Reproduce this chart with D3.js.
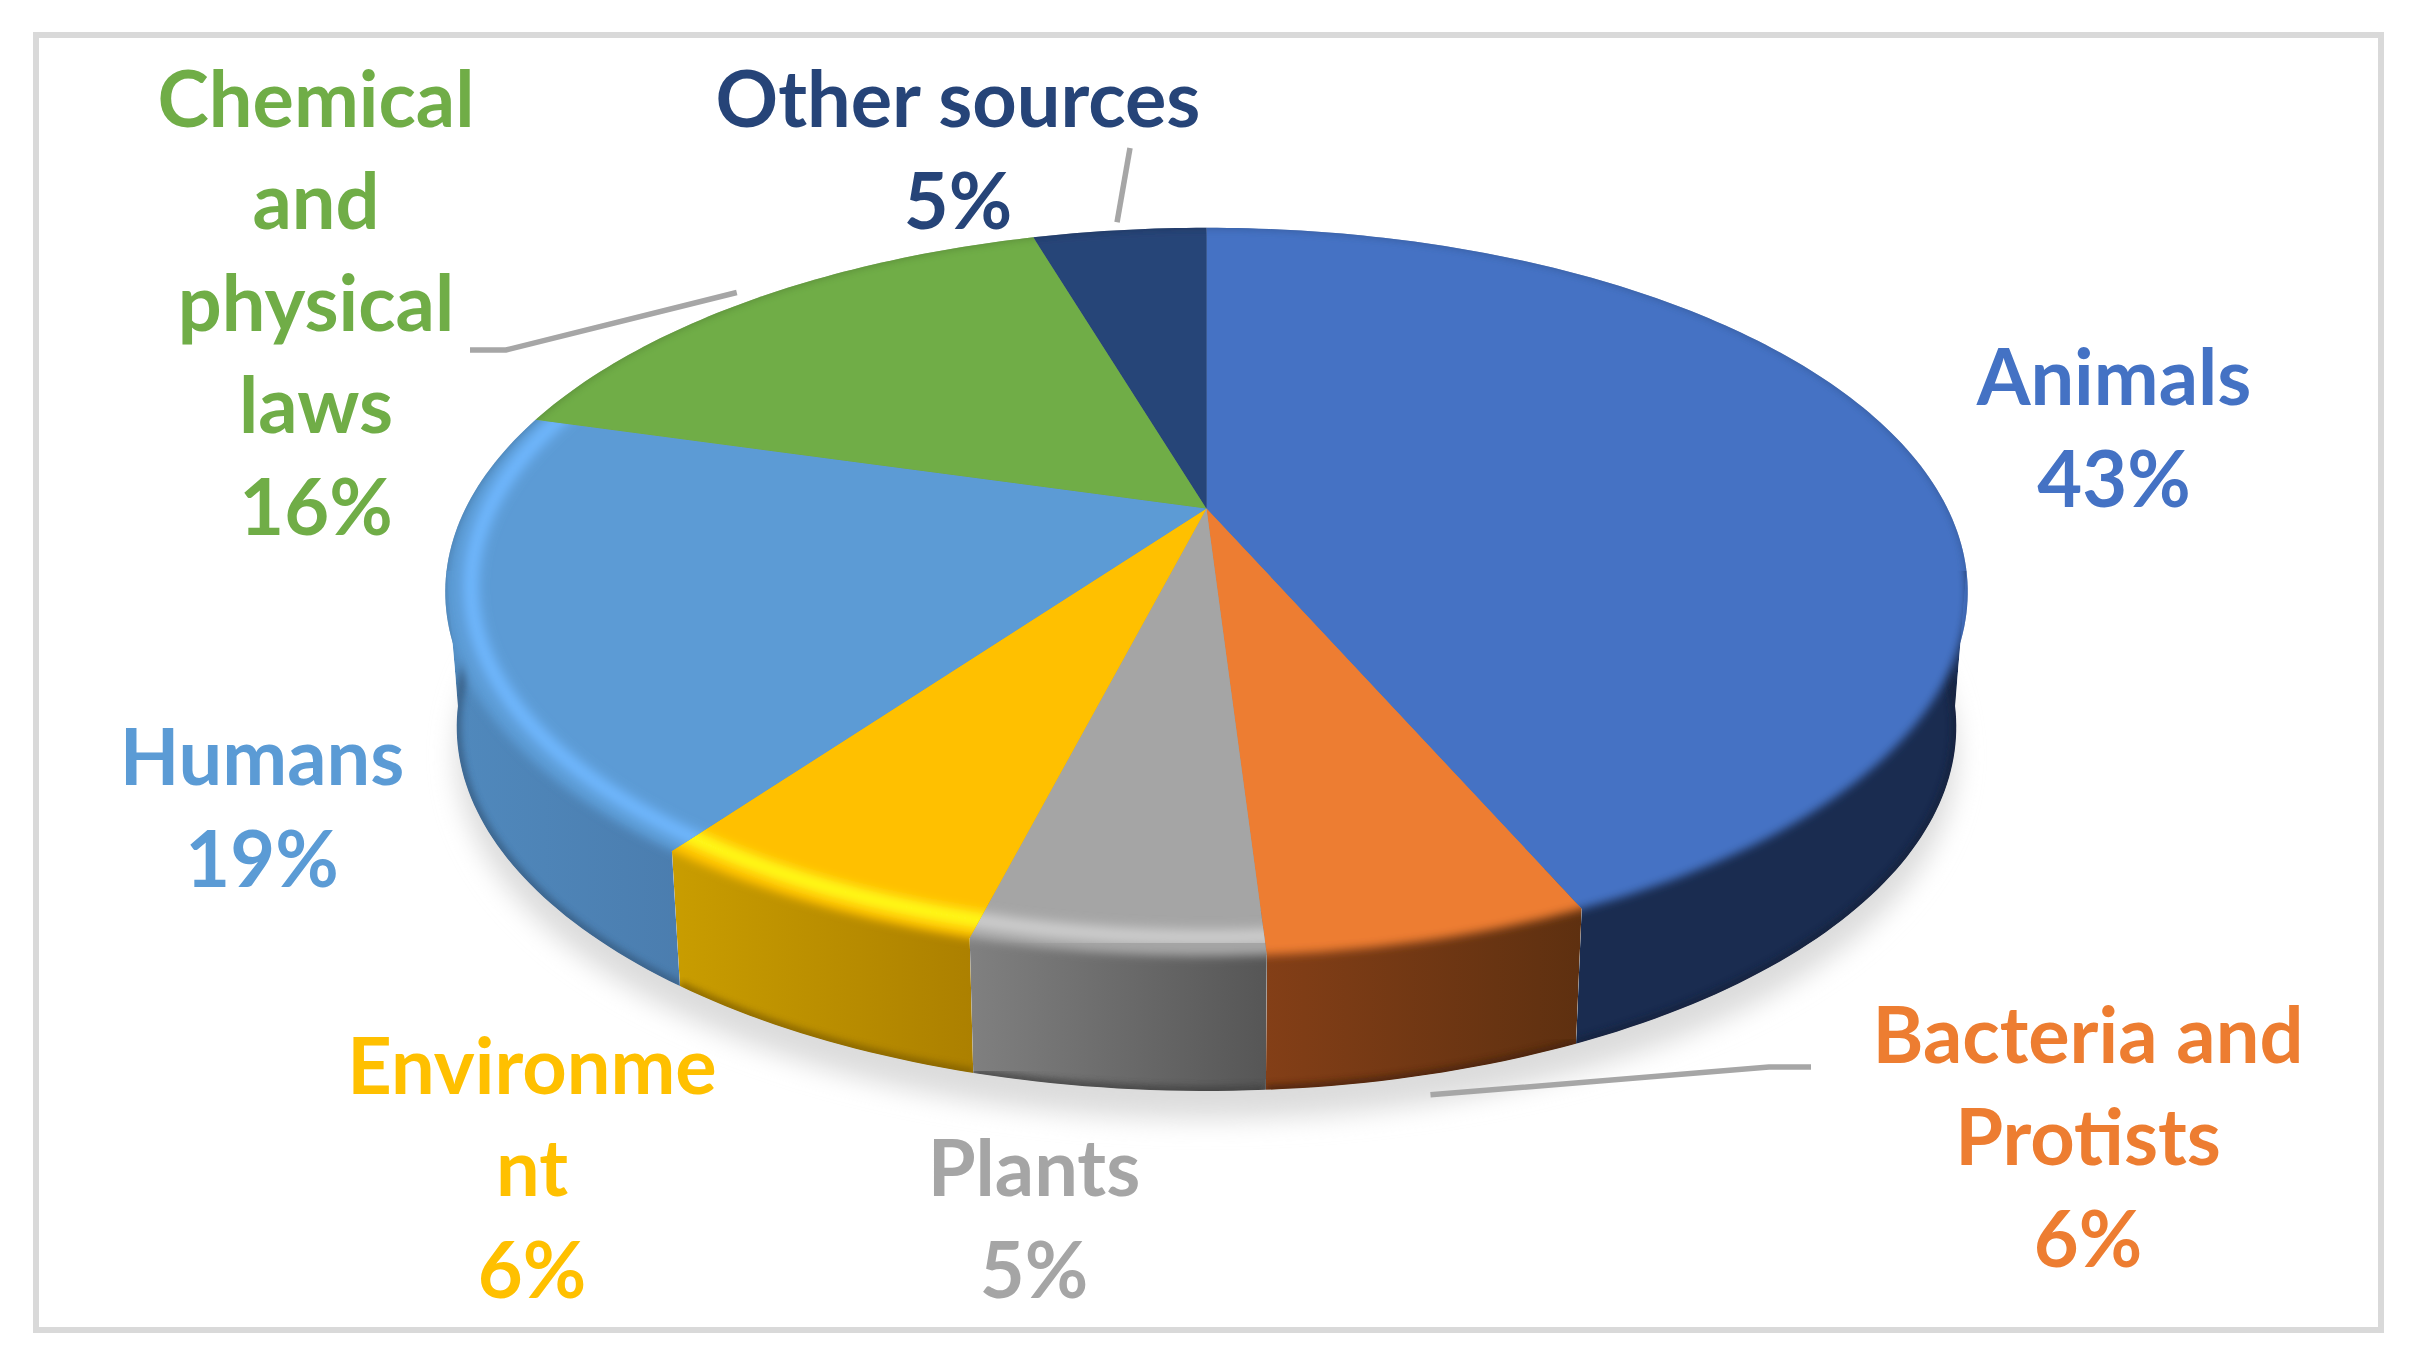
<!DOCTYPE html>
<html>
<head>
<meta charset="utf-8">
<script src="https://cdn.jsdelivr.net/npm/d3@7"></script>
<style>
  html, body { margin: 0; padding: 0; background: #fff; }
  svg { display: block; }
  text { font-family: Lato, "Open Sans", sans-serif; font-weight: 700; text-anchor: middle; }
</style>
</head>
<body>
<svg id="chart" width="2416" height="1364"></svg>
<script>
// clockwise from 12 o'clock (they round to the printed percents)
var categories = ['Animals', 'Bacteria and Protists', 'Plants', 'Environment', 'Humans', 'Chemical and physical laws', 'Other sources'];
var values = [43.45, 5.55, 5, 6, 19.4, 16, 4.6];
var labelLines = [
    ['Animals'],
    ['Bacteria and', 'Protists'],
    ['Plants'],
    ['Environme', 'nt'],
    ['Humans'],
    ['Chemical', 'and', 'physical', 'laws'],
    ['Other sources']
];
var faceColors = ['#4472c4', '#ed7d31', '#a5a5a5', '#ffc000', '#5b9bd5', '#70ad47', '#264478'];
var wallColors = [
    ['#1a2c50', '#1a2c50'],
    ['#843f17', '#5e3010'],
    ['#808080', '#565656'],
    ['#c99d00', '#aa7e00'],
    ['#5089bd', '#4a7bac'],
    ['#43682a', '#43682a'],
    ['#16294a', '#16294a']
];
var rimColors = [null, null, '#cfcfcf', '#ffff1e', '#70b8ff', null, null];

// layout of the text and leaders, in page pixels
var labelPos = [
    {x: 2114, y: 405},
    {x: 2088, y: 1063},
    {x: 1034, y: 1196},
    {x: 532, y: 1094},
    {x: 262, y: 785},
    {x: 316, y: 127},
    {x: 958, y: 127}
];
var fontSize = 77.5;
var lineHeight = 102;
var leaders = [
    {slice: 6, r: 1.035, drop: 0, knee: null, end: [1130, 148]},
    {slice: 5, r: 1.04, drop: 0, knee: [506, 350], end: [470, 350]},
    {slice: 1, r: 1, drop: 155, knee: [1769, 1067], end: [1811, 1067]}
];

var cx = 1206.5, cy = 508.5;
var spanX = 741, spanY = 345, tilt = -0.229;
var depth = 135, bottomShrink = 0.985;

var svg = d3.select('#chart');
var defs = svg.append('defs');

function addBlur(id, dev) {
    defs.append('filter').attr('id', id)
        .attr('x', '-10%').attr('y', '-10%').attr('width', '120%').attr('height', '120%')
        .append('feGaussianBlur').attr('stdDeviation', dev);
}
addBlur('shadowBlur', 13);
addBlur('faceBlur', 5);
addBlur('rimBlur', 6);
addBlur('edgeBlur', 3);

// flat disc seen in perspective: the near half comes out larger than the far half
function project(angle, r) {
    var x = r * Math.sin(angle), y = -r * Math.cos(angle);
    var w = 1 + tilt * y;
    return [cx + spanX * x / w, cy + spanY * y / w];
}
function lower(p) {
    return [cx + (p[0] - cx) * bottomShrink, p[1] + depth];
}
function arcPoints(a0, a1, r) {
    var n = Math.max(2, Math.ceil(Math.abs(a1 - a0) / (Math.PI / 180)));
    return d3.range(n + 1).map(function (i) {
        return project(a0 + (a1 - a0) * i / n, r);
    });
}
var openLine = d3.line();
var closedLine = d3.line().curve(d3.curveLinearClosed);

var arcs = d3.pie().sort(null).startAngle(0).endAngle(2 * Math.PI)(values);
var disc = closedLine(arcPoints(0, 2 * Math.PI, 1));

// side wall only exists on the near half. Built from quads so the tangent
// at the widest point fills in, plus a band under the rim for the blurred face to fade into
var wallFrom = 100 * Math.PI / 180, wallTo = 260 * Math.PI / 180;
function wallPath(d) {
    var a0 = Math.max(d.startAngle, wallFrom), a1 = Math.min(d.endAngle, wallTo);
    if (a1 <= a0) return null;
    var upper = arcPoints(a0, a1, 1);
    var inner = arcPoints(a0, a1, 0.92);
    var path = closedLine(inner.concat(upper.slice().reverse()));
    d3.range(upper.length - 1).forEach(function (i) {
        path += closedLine([upper[i], upper[i + 1], lower(upper[i + 1]), lower(upper[i])]);
    });
    return path;
}
function sectorPoints(d) {
    return [[cx, cy]].concat(arcPoints(d.startAngle, d.endAngle, 1));
}

// frame
svg.append('rect')
    .attr('x', 36).attr('y', 35).attr('width', 2345).attr('height', 1295)
    .attr('fill', '#fff').attr('stroke', '#d9d9d9').attr('stroke-width', 6);

// shadow under the pie
svg.append('path')
    .attr('d', closedLine(arcPoints(0, 2 * Math.PI, 1).map(lower)))
    .attr('transform', 'translate(0,28)')
    .attr('fill', '#dcdcdc')
    .attr('filter', 'url(#shadowBlur)');

// dark crisp sectors: the far edge of the blurred face fades into these
arcs.forEach(function (d, i) {
    svg.append('path')
        .attr('d', closedLine(sectorPoints(d)))
        .attr('fill', d3.color(faceColors[i]).darker(0.7));
});

// walls
arcs.forEach(function (d, i) {
    var wall = wallPath(d);
    if (!wall) return;
    var grad = defs.append('linearGradient').attr('id', 'wall' + i);
    grad.append('stop').attr('offset', '0%').attr('stop-color', wallColors[i][0]);
    grad.append('stop').attr('offset', '100%').attr('stop-color', wallColors[i][1]);

    defs.append('clipPath').attr('id', 'wallClip' + i)
        .append('path').attr('d', wall);

    var g = svg.append('g').attr('clip-path', 'url(#wallClip' + i + ')');
    g.append('path').attr('d', wall).attr('fill', 'url(#wall' + i + ')');
    // darker line along the foot of the wall
    g.append('path')
        .attr('d', openLine(arcPoints(d.startAngle, d.endAngle, 1).map(lower)))
        .attr('fill', 'none')
        .attr('stroke', d3.color(wallColors[i][1]).darker(0.9))
        .attr('stroke-width', 10)
        .attr('opacity', 0.7)
        .attr('filter', 'url(#edgeBlur)');
});

// top faces, with the soft bevel spilling over the top of the wall
arcs.forEach(function (d, i) {
    var clip = defs.append('clipPath').attr('id', 'faceClip' + i);
    clip.append('path').attr('d', closedLine(sectorPoints(d)));
    var wall = wallPath(d);
    if (wall) clip.append('path').attr('d', wall);

    var g = svg.append('g').attr('clip-path', 'url(#faceClip' + i + ')');
    g.append('path').attr('d', disc).attr('fill', faceColors[i]).attr('filter', 'url(#faceBlur)');
    if (rimColors[i]) {
        g.append('path')
            .attr('d', openLine(arcPoints(d.startAngle - 0.2, d.endAngle + 0.2, 0.968)))
            .attr('fill', 'none')
            .attr('stroke', rimColors[i])
            .attr('stroke-width', 15)
            .attr('filter', 'url(#rimBlur)');
    }
});

// leader lines
leaders.forEach(function (l) {
    var d = arcs[l.slice];
    var p = project((d.startAngle + d.endAngle) / 2, l.r);
    var pts = [[p[0], p[1] + l.drop]];
    if (l.knee) pts.push(l.knee);
    pts.push(l.end);
    svg.append('path')
        .attr('d', openLine(pts))
        .attr('fill', 'none')
        .attr('stroke', '#a6a6a6')
        .attr('stroke-width', 5.5);
});

// labels
labelLines.forEach(function (lines, i) {
    var text = svg.append('text')
        .attr('fill', faceColors[i])
        .attr('font-size', fontSize);
    lines.concat([Math.round(values[i]) + '%']).forEach(function (s, k) {
        text.append('tspan')
            .attr('x', labelPos[i].x)
            .attr('y', labelPos[i].y + k * lineHeight)
            .text(s);
    });
});
</script>
</body>
</html>
